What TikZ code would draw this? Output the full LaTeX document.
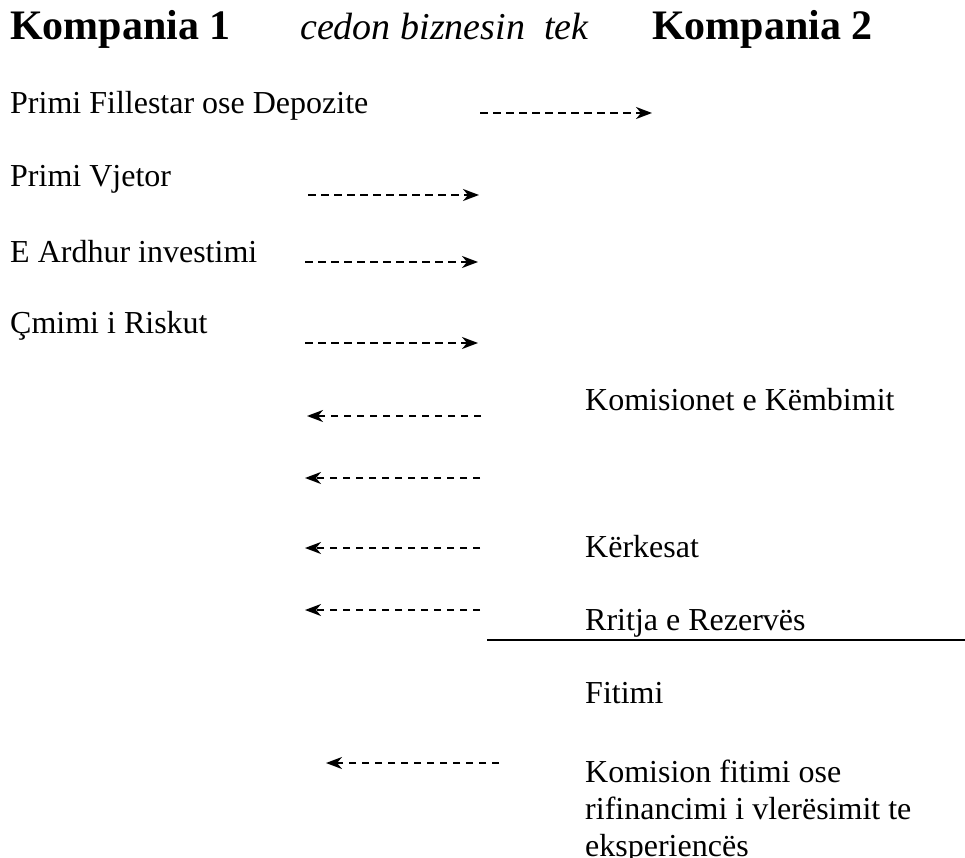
\documentclass[tikz,border=0pt]{standalone}
\usepackage{fontspec}
\setmainfont{Liberation Serif}
\usetikzlibrary{arrows.meta}
\begin{document}
\begin{tikzpicture}[x=1pt,y=-1pt,
  txt/.style={anchor=base west, inner sep=0pt, font=\fontsize{32}{37}\selectfont},
  ttl/.style={anchor=base west, inner sep=0pt, font=\fontsize{42}{48}\selectfont\bfseries},
  ttlit/.style={anchor=base west, inner sep=0pt, font=\fontsize{38}{44}\selectfont\itshape},
  flow/.style={line width=2pt, dash pattern=on 7.5pt off 5.5pt, -{Stealth[length=16pt,width=12pt,inset=5pt]}},
]
\useasboundingbox (0,0) rectangle (965,858);
% titles
\node[ttl] (k1) at (10,40) {Kompania 1};
\node[ttlit] (ced) at (300,40) {cedon biznesin\ \ tek};
\node[ttl] (k2) at (652,40) {Kompania 2};
% left texts
\node[txt] (pf) at (10,114) {Primi Fillestar ose Depozite};
\node[txt] (pv) at (10,187) {Primi Vjetor};
\node[txt] (ea) at (10,262) {E Ardhur investimi};
\node[txt] (cr) at (10,333) {Çmimi i Riskut};
% right texts
\node[txt] (ko) at (585,410) {Komisionet e Këmbimit};
\node[txt] (ke) at (585,557) {Kërkesat};
\node[txt] (rr) at (585,630) {Rritja e Rezervës};
\node[txt] (fi) at (585,703) {Fitimi};
\node[txt] (kf) at (585,782) {\begin{tabular}[t]{@{}l@{}}Komision fitimi ose\\rifinancimi i vlerësimit te\\eksperiencës\end{tabular}};
% arrow ends
\coordinate (a1s) at (480,113); \coordinate (a1e) at (652,113);
\coordinate (a2s) at (308,195); \coordinate (a2e) at (479,195);
\coordinate (a3s) at (305,262); \coordinate (a3e) at (478,262);
\coordinate (a4s) at (305,343); \coordinate (a4e) at (478,343);
\coordinate (b1s) at (481,416); \coordinate (b1e) at (307,416);
\coordinate (b2s) at (480,478); \coordinate (b2e) at (305,478);
\coordinate (b3s) at (480,548); \coordinate (b3e) at (305,548);
\coordinate (b4s) at (480,610); \coordinate (b4e) at (305,610);
\coordinate (b5s) at (499,763); \coordinate (b5e) at (326,763);
\coordinate (l1) at (487,640); \coordinate (l2) at (965,640);
\draw[flow] (a1s) -- (a1e);
\draw[flow] (a2s) -- (a2e);
\draw[flow] (a3s) -- (a3e);
\draw[flow] (a4s) -- (a4e);
\draw[flow] (b1s) -- (b1e);
\draw[flow] (b2s) -- (b2e);
\draw[flow] (b3s) -- (b3e);
\draw[flow] (b4s) -- (b4e);
\draw[flow] (b5s) -- (b5e);
\draw[line width=1.5pt] (l1) -- (l2);
\end{tikzpicture}
\end{document}
